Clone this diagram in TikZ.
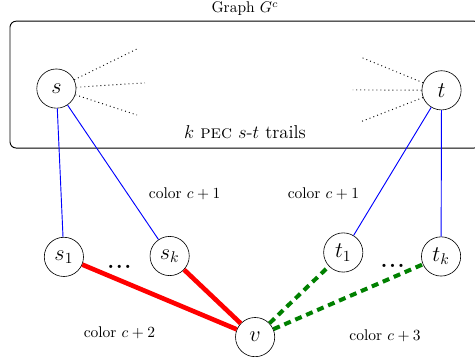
\documentclass[tikz,border=0pt]{standalone}
\usepackage{amsmath}
\usepackage{tikz}
\usetikzlibrary{
	arrows.meta,
	positioning,
	calc
}
\usepackage{xcolor}
\definecolor{darkgreen}{RGB}{0,128,0}
\newcommand{\bigdots}{\textbf{.\kern1pt.\kern1pt.}}

\begin{document}
\begin{tikzpicture}[>=stealth,
		vertex/.style={circle,draw,minimum size=0.89cm,inner sep=0pt,font=\Large},
		trail/.style={blue,line width=0.6pt},
		colred/.style={red,line width=3pt},
		colgreen/.style={darkgreen,line width=2.6pt,dash pattern=on 4.5pt off 3.2pt},
		lab/.style={inner sep=1pt}]
		
		\useasboundingbox (0,0) rectangle (10.78,8.08);
		
		% Graph box
		\draw[rounded corners,line width=0.6pt] (0.227,4.72) rectangle (10.9,7.60);
		\node[above] (gname) at (5.56,7.60) {Graph $G^c$};
		\node[anchor=base,font=\large] (trails) at (5.56,4.93) {$k$ \textsc{pec} $s$-$t$ trails};
		
		% Terminals
		\node[vertex] (s) at (1.28,6.07) {$s$};
		\node[vertex] (t) at (10.02,6.03) {$t$};
		
		% Dotted stubs
		\coordinate (su) at (3.11,6.97);
		\coordinate (sm) at (3.29,6.20);
		\coordinate (sl) at (3.11,5.47);
		\coordinate (tu) at (8.17,6.79);
		\coordinate (tm) at (8.01,6.04);
		\coordinate (tl) at (8.17,5.31);
		\foreach \c in {su,sm,sl} \draw[dotted,line width=0.6pt] (s) -- (\c);
		\foreach \c in {tu,tm,tl} \draw[dotted,line width=0.6pt] (t) -- (\c);
		
		% Copies
		\node[vertex] (s1) at (1.45,2.25) {$s_1$};
		\node[vertex] (sk) at (3.85,2.27) {$s_k$};
		\node[vertex] (t1) at (7.79,2.35) {$t_1$};
		\node[vertex] (tk) at (10.01,2.26) {$t_k$};
		\node[vertex] (v) at (5.79,0.43) {$v$};
		\node[anchor=base,font=\Large] (sdots) at (2.71,1.98) {\bigdots};
		\node[anchor=base,font=\Large] (tdots) at (8.91,2.00) {\bigdots};
		
		% Edges
		\draw[trail] (s) -- (s1);
		\draw[trail] (s) -- (sk);
		\draw[trail] (t) -- (t1);
		\draw[trail] (t) -- (tk);
		\draw[colred] (s1) -- (v);
		\draw[colred] (sk) -- (v);
		\draw[colgreen] (v) -- (t1);
		\draw[colgreen] (v) -- (tk);
		
		% Colour labels
		\node[lab] (c1a) at (4.19,3.68) {color $c+1$};
		\node[lab] (c1b) at (7.34,3.68) {color $c+1$};
		\node[lab] (c2) at (2.71,0.52) {color $c+2$};
		\node[lab] (c3) at (8.74,0.45) {color $c+3$};
		
	\end{tikzpicture}
\end{document}
